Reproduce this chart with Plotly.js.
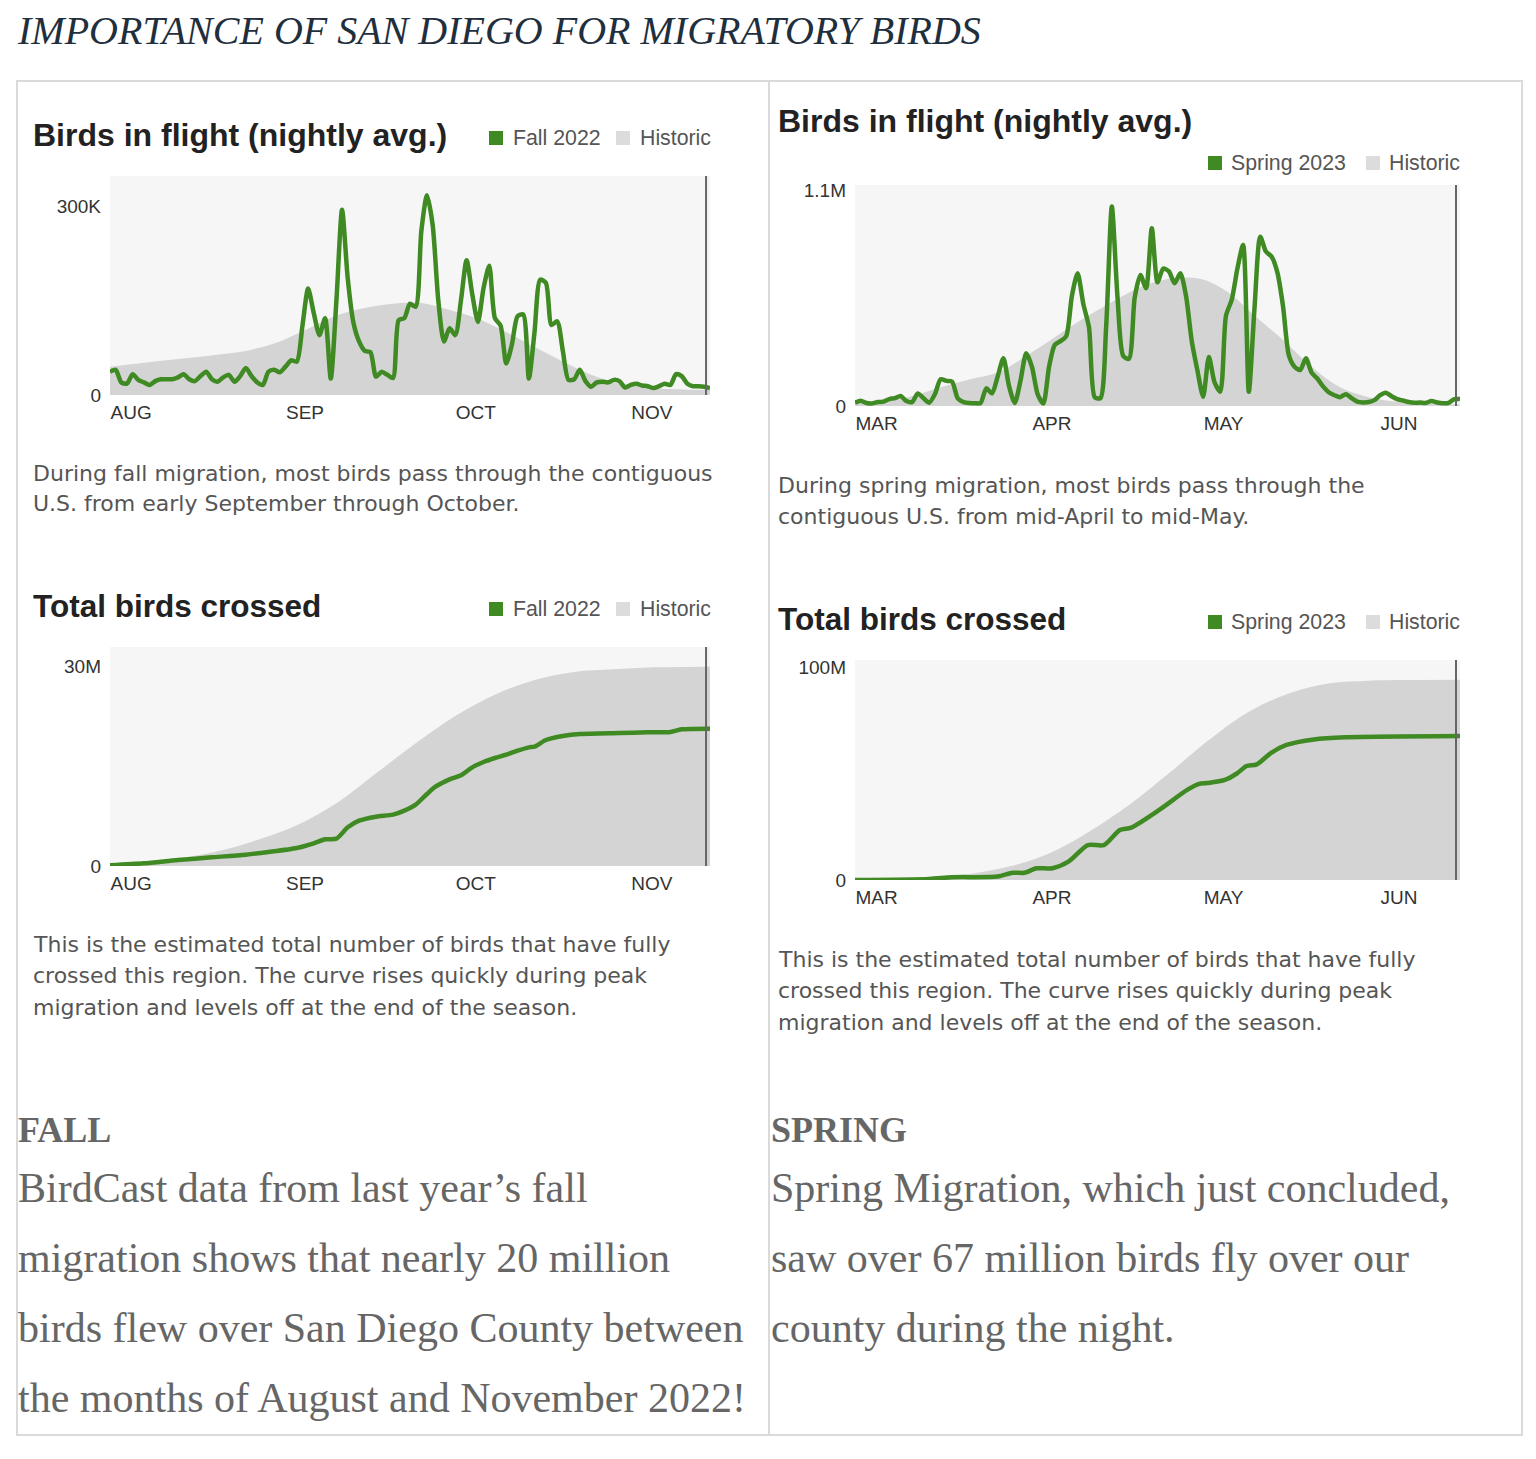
<!DOCTYPE html>
<html><head><meta charset="utf-8">
<script src="https://cdn.plot.ly/plotly-3.0.1.min.js"></script>
<style>html,body{margin:0;padding:0;background:#fff;}#chart{width:1536px;height:1459px;}</style>
</head><body><div id="chart"></div>
<script>
// ---------------- DATA ----------------
const fallStart = '2022-08-01';
const springStart = '2023-03-01';

// nightly average birds in flight, thousands, one value per night from start
const fallNightlyK = [37,40,20,18,33,24,20,16,22,25,
  25,25,28,33,25,22,30,37,25,21,
  28,32,21,30,43,30,20,16,37,40,
  36,45,55,53,110,169,130,95,122,26,
  150,294,185,115,85,70,68,29,37,32,
  27,119,122,145,140,260,317,270,150,85,
  106,95,150,214,160,116,170,205,122,110,
  50,80,125,128,26,100,183,178,111,117,
  70,24,25,40,22,13,20,21,20,24,
  22,12,16,18,15,14,11,14,18,16,
  33,30,18,14,14,13,11];
const springNightlyK = [17,27,15,13,20,22,35,40,51,25,
  20,64,40,17,60,136,128,124,39,20,
  15,14,15,90,64,150,243,100,15,130,
  268,200,60,13,200,311,330,355,560,676,
  520,400,45,40,400,1015,550,255,240,550,
  667,600,905,630,700,685,625,676,560,330,
  180,47,250,120,73,460,540,700,820,73,
  500,862,786,760,680,506,260,200,183,243,
  170,140,100,70,55,45,60,40,22,18,
  20,30,55,68,50,35,28,20,16,18,
  16,25,18,14,16,35,35];

// historic nightly average (thousands) at day offsets
const fallHistDays = [0,5,10,15,20,25,30,35,40,45,50,55,60,65,70,75,80,85,90,95,100,106];
const fallHistK    = [45,50,55,60,65,72,85,105,126,138,145,146,135,121,100,76,53,32,18,12,9,8];
const springHistDays = [0,5,10,15,20,25,30,35,40,45,50,55,60,63,66,70,75,80,85,90,95,100,106];
const springHistK    = [15,25,50,95,135,170,255,350,445,530,605,648,650,620,565,460,336,200,95,45,22,13,8];

// cumulative totals (millions) at day offsets
const fallTotalDays = [0,6,12,18,24,28,33,36,38,40,42,44,47,50,52,54,56,57.5,60,62,64,66,68,70,72,74,75,77,80,83,90,95,99,101,106];
const fallTotalM    = [0.1,0.4,0.9,1.3,1.7,2.1,2.7,3.4,4.0,4.1,5.8,6.8,7.4,7.7,8.3,9.2,10.8,11.9,13.0,13.6,14.8,15.6,16.2,16.7,17.3,17.8,17.9,18.9,19.5,19.8,19.95,20.05,20.1,20.5,20.6];
const fallHistTotalDays = [0,6,12,19,26,33,40,47,54,61,68,75,82,89,96,106];
const fallHistTotalM    = [0,0.4,1.1,2.2,3.9,6.1,9.4,13.9,18.4,22.5,25.7,27.9,29.1,29.5,29.8,29.9];

const springTotalDays = [0,13,17,25,27.6,29.7,31.8,34.6,37.4,40.8,43.6,46.4,48.4,53.3,58.2,60.3,61.7,64.8,66.9,68.6,70.4,72.8,75.6,80.4,85.9,106];
const springTotalM    = [0,0.5,1.3,1.6,3.4,3.4,5.5,5.5,8.6,16.4,16.4,23.5,24.6,32.9,42.3,45.1,45.5,47.0,50.0,53.5,54.3,59.5,63.4,66.0,67.0,67.6];
const springHistTotalDays = [0,7,14,20,27,34,41,48,55,62,69,76,83,90,97,106];
const springHistTotalM    = [0,0.3,1.2,2.8,6.3,12.5,22.7,35.2,50.1,65.7,79,87.6,92.3,93.6,93.9,94];

// tick labels
const fallMonths = ['2022-08-01','2022-09-01','2022-10-01','2022-11-01'];
const fallMonthLabels = ['AUG','SEP','OCT','NOV'];
const springMonths = ['2023-03-01','2023-04-01','2023-05-01','2023-06-01'];
const springMonthLabels = ['MAR','APR','MAY','JUN'];
const flightFallTicks = [0, 300000], flightFallTickText = ['0','300K'];
const flightSpringTicks = [0, 1100000], flightSpringTickText = ['0','1.1M'];
const totalFallTicks = [0, 30000000], totalFallTickText = ['0','30M'];
const totalSpringTicks = [0, 100000000], totalSpringTickText = ['0','100M'];

// texts
const pageTitle = 'IMPORTANCE OF SAN DIEGO FOR MIGRATORY BIRDS';
const flightTitle = 'Birds in flight (nightly avg.)';
const totalTitle = 'Total birds crossed';
const fallLegend = 'Fall 2022', springLegend = 'Spring 2023', histLegend = 'Historic';
const fallFlightCaption = ['During fall migration, most birds pass through the contiguous','U.S. from early September through October.'];
const springFlightCaption = ['During spring migration, most birds pass through the','contiguous U.S. from mid-April to mid-May.'];
const totalCaption = ['This is the estimated total number of birds that have fully','crossed this region. The curve rises quickly during peak','migration and levels off at the end of the season.'];
const fallStory = ['BirdCast data from last year\u2019s fall','migration shows that nearly 20 million','birds flew over San Diego County between','the months of August and November 2022!'];
const springStory = ['Spring Migration, which just concluded,','saw over 67 million birds fly over our','county during the night.'];

// ---------------- HELPERS ----------------
const W = 1536, H = 1459;
const fx = p => p / W;
const fy = p => 1 - p / H;
const SANS = 'Liberation Sans, Arial, sans-serif';
const CAP = 'DejaVu Sans, Verdana, sans-serif';
const SERIF = 'Liberation Serif, Times New Roman, serif';
const GREEN = '#3f8a23', GRAY = '#d4d4d4';

function dayDate(start, d) {
  const [Y, M, D] = start.split('-').map(Number);
  const t = Date.UTC(Y, M - 1, D) + d * 86400000;
  return new Date(t).toISOString().slice(0, 16).replace('T', ' ');
}

const traces = [];
function addPair(xa, ya, start, histDays, histVals, scaleH, lineDays, lineVals, scaleL) {
  traces.push({type:'scatter', mode:'lines', xaxis:xa, yaxis:ya,
    x: histDays.map(d => dayDate(start, d)), y: histVals.map(v => v * scaleH),
    fill:'tozeroy', fillcolor: GRAY, line:{width:0, shape:'spline', smoothing:1, color:GRAY},
    hoverinfo:'skip', showlegend:false});
  traces.push({type:'scatter', mode:'lines', xaxis:xa, yaxis:ya,
    x: lineDays.map(d => dayDate(start, d)), y: lineVals.map(v => v * scaleL),
    line:{width:4.5, color: GREEN, shape:'spline', smoothing:0.7},
    showlegend:false});
}
const idx = arr => arr.map((_, i) => i);
addPair('x','y', fallStart, fallHistDays, fallHistK, 1000, idx(fallNightlyK), fallNightlyK, 1000);
addPair('x2','y2', springStart, springHistDays, springHistK, 1000, idx(springNightlyK), springNightlyK, 1000);
addPair('x3','y3', fallStart, fallHistTotalDays, fallHistTotalM, 1e6, fallTotalDays, fallTotalM, 1e6);
addPair('x4','y4', springStart, springHistTotalDays, springHistTotalM, 1e6, springTotalDays, springTotalM, 1e6);

function xAxis(left, right, anchor, start, months, labels) {
  return {domain:[fx(left), fx(right)], anchor, type:'date',
    range:[dayDate(start, 0), dayDate(start, 106)],
    tickvals: months, ticktext: labels, ticklabelposition:'outside right',
    showgrid:false, zeroline:false, showline:false,
    ticks:'outside', ticklen:4, tickcolor:'rgba(0,0,0,0)',
    tickfont:{family:SANS, size:19, color:'#333'}, fixedrange:true};
}
function yAxis(top, bottom, anchor, max, vals, text) {
  return {domain:[fy(bottom), fy(top)], anchor, range:[0, max],
    tickvals: vals, ticktext: text, showgrid:false, zeroline:false, showline:false, ticks:'',
    ticklabelstandoff: 8,
    tickfont:{family:SANS, size:19, color:'#333'}, fixedrange:true};
}

const shapes = [];
const annotations = [];
function txt(text, x, y, size, color, family) {
  annotations.push({text, xref:'paper', yref:'paper', x: fx(x), y: fy(y),
    xanchor:'left', yanchor:'middle', showarrow:false, borderpad:0,
    font:{family, size, color}});
}
function square(x, y, color) {
  shapes.push({type:'rect', xref:'paper', yref:'paper', x0:fx(x), x1:fx(x+14), y0:fy(y+7), y1:fy(y-7),
    fillcolor:color, line:{width:0}});
}
function legend(xg, xgt, xh, xht, y, label) {
  square(xg, y, GREEN); txt(label, xgt, y, 21.3, '#555', SANS);
  square(xh, y, '#dcdcdc'); txt(histLegend, xht, y, 21.3, '#555', SANS);
}

// table borders
shapes.push({type:'rect', xref:'paper', yref:'paper', x0:fx(17), x1:fx(1522), y0:fy(1435), y1:fy(81), line:{color:'#dadada', width:2}});
shapes.push({type:'line', xref:'paper', yref:'paper', x0:fx(769), x1:fx(769), y0:fy(1435), y1:fy(81), line:{color:'#dadada', width:2}});

// current date markers
[['x','y domain',fallStart],['x2','y2 domain',springStart],['x3','y3 domain',fallStart],['x4','y4 domain',springStart]].forEach(([xr, yr, st]) => {
  const d = dayDate(st, 105.3);
  shapes.push({type:'line', xref:xr, yref:yr, x0:d, x1:d, y0:0, y1:1, line:{color:'#666', width:2}, layer:'above'});
});

// texts
txt('<i>' + pageTitle + '</i>', 16, 30, 40, '#1f2f3d', SERIF);

txt('<b>' + flightTitle + '</b>', 32, 135, 32, '#222', SANS);
legend(489, 512, 616, 639, 138, fallLegend);
txt('<b>' + flightTitle + '</b>', 777, 121, 32, '#222', SANS);
legend(1208, 1230, 1366, 1388, 163, springLegend);
txt('<b>' + totalTitle + '</b>', 32, 606, 31.5, '#222', SANS);
legend(489, 512, 616, 639, 609, fallLegend);
txt('<b>' + totalTitle + '</b>', 777, 619, 31.5, '#222', SANS);
legend(1208, 1230, 1366, 1388, 622, springLegend);

fallFlightCaption.forEach((s, i) => txt(s, 32, 473 + i * 31, 22, '#555', CAP));
springFlightCaption.forEach((s, i) => txt(s, 777, 485 + i * 31.5, 22, '#555', CAP));
totalCaption.forEach((s, i) => txt(s, 32, 944 + i * 31.5, 22, '#555', CAP));
totalCaption.forEach((s, i) => txt(s, 777, 959 + i * 31.5, 22, '#555', CAP));

txt('<b>FALL</b>', 17, 1130, 36, '#666', SERIF);
txt('<b>SPRING</b>', 770, 1130, 36, '#666', SERIF);
fallStory.forEach((s, i) => txt(s, 17, 1188 + i * 70, 42, '#666', SERIF));
springStory.forEach((s, i) => txt(s, 770, 1188 + i * 70, 42, '#666', SERIF));

const layout = {
  width: W, height: H, margin:{l:0, r:0, t:0, b:0},
  paper_bgcolor:'#ffffff', plot_bgcolor:'#f6f6f6', showlegend:false,
  xaxis:  xAxis(110, 710, 'y', fallStart, fallMonths, fallMonthLabels),
  yaxis:  yAxis(176, 395, 'x', 347600, flightFallTicks, flightFallTickText),
  xaxis2: xAxis(855, 1460, 'y2', springStart, springMonths, springMonthLabels),
  yaxis2: yAxis(185, 406, 'x2', 1125000, flightSpringTicks, flightSpringTickText),
  xaxis3: xAxis(110, 710, 'y3', fallStart, fallMonths, fallMonthLabels),
  yaxis3: yAxis(647, 866, 'x3', 32850000, totalFallTicks, totalFallTickText),
  xaxis4: xAxis(855, 1460, 'y4', springStart, springMonths, springMonthLabels),
  yaxis4: yAxis(660, 880, 'x4', 103300000, totalSpringTicks, totalSpringTickText),
  shapes, annotations
};
Plotly.newPlot('chart', traces, layout, {displayModeBar:false, staticPlot:true});
</script></body></html>
